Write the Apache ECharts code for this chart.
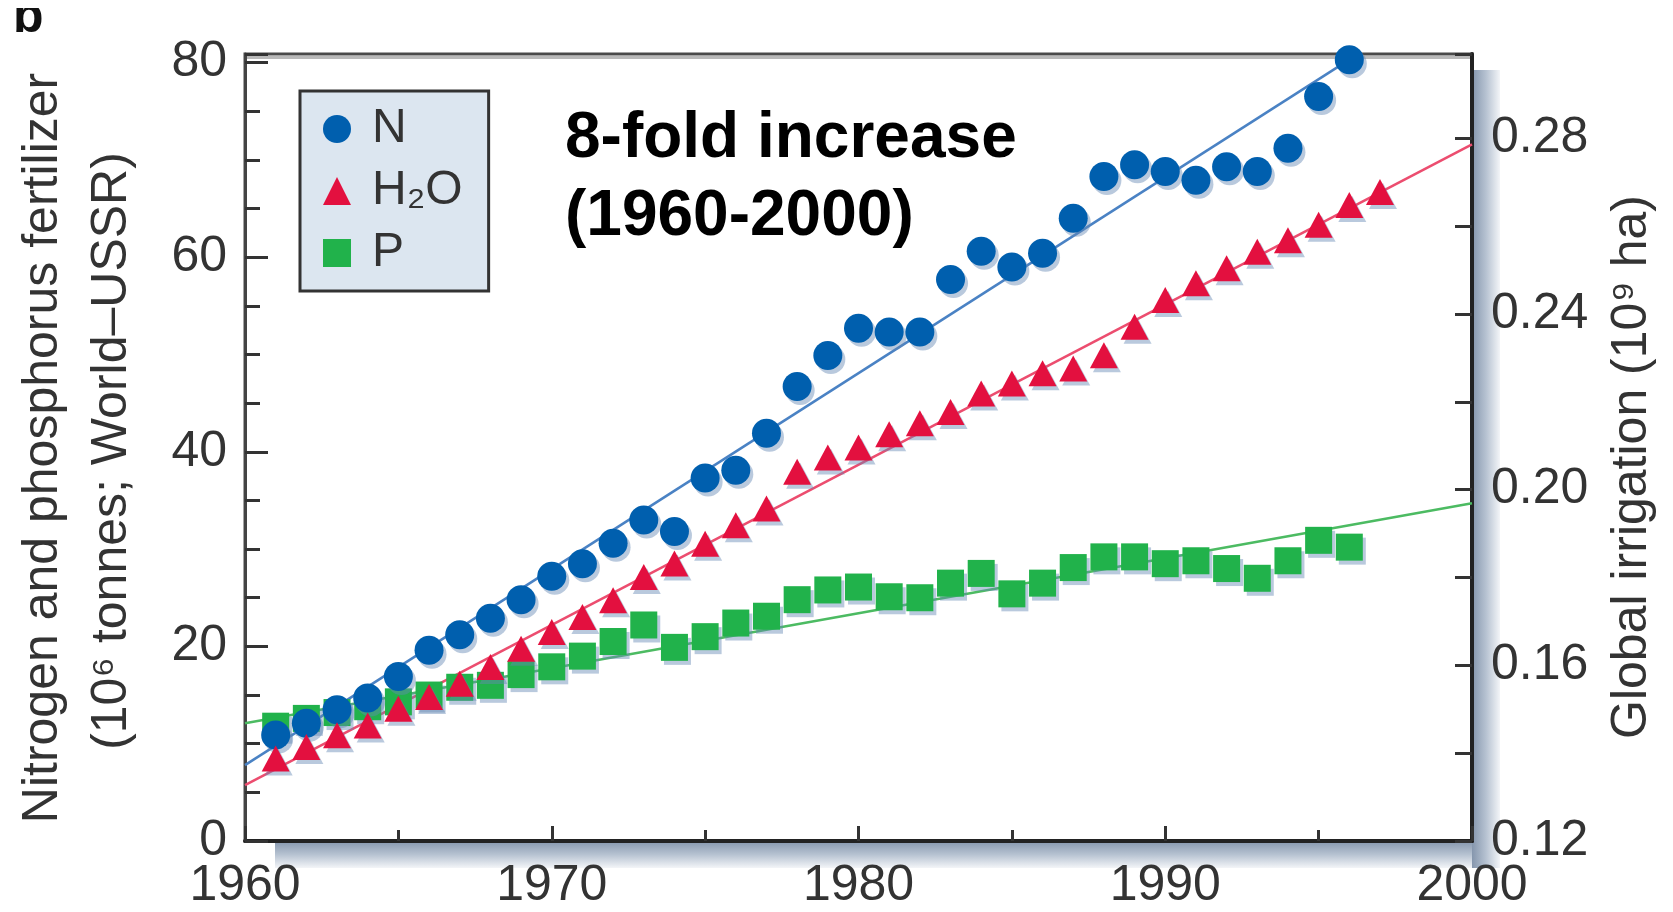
<!DOCTYPE html>
<html>
<head>
<meta charset="utf-8">
<script src="https://cdn.jsdelivr.net/npm/echarts@6/dist/echarts.min.js"></script>
<style>
html,body{margin:0;padding:0;background:#fff;}
#chart{width:1673px;height:912px;}
</style>
</head>
<body>
<div id="chart"></div>
<script>
// ---- data ----
const years = [1961,1962,1963,1964,1965,1966,1967,1968,1969,1970,1971,1972,1973,1974,1975,1976,1977,1978,1979,1980,1981,1982,1983,1984,1985,1986,1987,1988,1989,1990,1991,1992,1993,1994,1995,1996];
const h2oYears = [1961,1962,1963,1964,1965,1966,1967,1968,1969,1970,1971,1972,1973,1974,1975,1976,1977,1978,1979,1980,1981,1982,1983,1984,1985,1986,1987,1988,1989,1990,1991,1992,1993,1994,1995,1996,1997];
const nitrogen = [10.9,12.1,13.5,14.7,16.9,19.6,21.2,22.9,24.8,27.2,28.5,30.6,33.0,31.8,37.3,38.1,41.9,46.7,49.9,52.7,52.3,52.3,57.7,60.6,59.0,60.4,64.0,68.3,69.5,68.8,67.9,69.3,68.8,71.2,76.5,80.3];
const irrigation = [0.1388,0.1414,0.1441,0.1463,0.1501,0.1528,0.1558,0.1596,0.1638,0.1676,0.1710,0.1748,0.1801,0.1832,0.1877,0.1919,0.1957,0.2041,0.2073,0.2096,0.2126,0.2151,0.2177,0.2219,0.2242,0.2265,0.2276,0.2306,0.2371,0.2432,0.2470,0.2504,0.2542,0.2568,0.2603,0.2648,0.2678];
const phosphorus = [11.8,12.6,13.2,13.8,14.3,15.0,15.8,16.0,17.1,17.9,19.0,20.5,22.2,19.9,21.0,22.4,23.1,24.8,25.8,26.1,25.1,25.0,26.5,27.5,25.4,26.5,28.1,29.2,29.2,28.5,28.8,28.0,27.0,28.8,30.9,30.2];
const nTrend = [[1960, 7.8], [1996, 80.3]];
const h2oTrend = [[1960, 0.1327], [2000, 0.2786]];
const pTrend = [[1960, 12.1], [2000, 34.7]];
const seriesNames = ['N', 'H\u2082O', 'P'];
const annotation = ['8-fold increase', '(1960-2000)'];
const leftTitle = ['Nitrogen and phosphorus fertilizer', '(10\u2076 tonnes; World\u2013USSR)'];
const rightTitle = 'Global irrigation (10\u2079 ha)';

// ---- chart ----
const FONT = '"Liberation Sans", Arial, Helvetica, sans-serif';
const chart = echarts.init(document.getElementById('chart'), null, {renderer: 'canvas'});
const pairs = (xs, ys) => xs.map((x, i) => [x, ys[i]]);
const shadow = {opacity: 1, shadowColor: 'rgba(100,135,180,0.45)', shadowOffsetX: 3, shadowOffsetY: 4, shadowBlur: 0};
const tickLine = {color: '#333', width: 3};
const labelStyle = {fontSize: 50, color: '#333', fontFamily: FONT};

const option = {
  animation: false,
  backgroundColor: '#fff',
  grid: {left: 245, right: 201, top: 54, bottom: 71, show: true, borderColor: '#4a4a4a', borderWidth: 3, backgroundColor: 'transparent', containLabel: false},
  legend: {
    data: seriesNames,
    orient: 'vertical', left: 300, top: 91,
    backgroundColor: '#dce6f0', borderColor: '#333', borderWidth: 3,
    padding: [14, 26, 14, 23],
    itemWidth: 28, itemHeight: 28, itemGap: 14,
    selectedMode: false,
    itemStyle: {opacity: 1, shadowBlur: 0, shadowOffsetX: 0, shadowOffsetY: 0},
    textStyle: {fontSize: 48, color: '#333', fontFamily: FONT, lineHeight: 46, padding: [0, 0, 0, 16]}
  },
  xAxis: {
    type: 'value', min: 1960, max: 2000, interval: 10,
    axisLine: {show: true, lineStyle: {color: '#222', width: 4}},
    axisTick: {show: true, inside: true, length: 15, lineStyle: tickLine},
    minorTick: {show: true, splitNumber: 2, length: 11, lineStyle: tickLine},
    splitLine: {show: false},
    axisLabel: Object.assign({margin: 20, formatter: v => String(v)}, labelStyle)
  },
  yAxis: [
    {
      type: 'value', position: 'left', min: 0, max: 80.88, interval: 5,
      axisLine: {show: true, lineStyle: {color: '#444', width: 3}},
      axisTick: {show: true, inside: true, length: 15, lineStyle: tickLine},
      splitLine: {show: false},
      axisLabel: Object.assign({margin: 18, formatter: v => (Math.abs(v / 20 - Math.round(v / 20)) < 1e-6 ? String(Math.round(v)) : '')}, labelStyle)
    },
    {
      type: 'value', position: 'right', min: 0.12, max: 0.2992, interval: 0.02,
      axisLine: {show: true, lineStyle: {color: '#222', width: 4}},
      axisTick: {show: true, inside: true, length: 17, lineStyle: tickLine},
      splitLine: {show: false},
      axisLabel: Object.assign({margin: 19, formatter: v => { const k = Math.round(v * 100); return (Math.abs(v * 100 - k) < 1e-6 && k % 4 === 0) ? (k / 100).toFixed(2) : ''; }}, labelStyle)
    },
    {
      type: 'value', position: 'left', min: 0, max: 80.88, interval: 20,
      axisLine: {show: false},
      axisTick: {show: true, inside: true, length: 23, lineStyle: tickLine},
      splitLine: {show: false},
      axisLabel: {show: false}
    }
  ],
  series: [
    {type: 'line', data: pTrend, yAxisIndex: 0, showSymbol: false, silent: true, z: 1, lineStyle: {color: '#4cbb62', width: 2.5}},
    {type: 'line', data: nTrend, yAxisIndex: 0, showSymbol: false, silent: true, z: 1, lineStyle: {color: '#4a82c4', width: 2.5}},
    {type: 'line', data: h2oTrend, yAxisIndex: 1, showSymbol: false, silent: true, z: 1, lineStyle: {color: '#ec4d6f', width: 2.5}},
    {name: seriesNames[2], type: 'scatter', yAxisIndex: 0, data: pairs(years, phosphorus), symbol: 'rect', symbolSize: 27, z: 2, itemStyle: Object.assign({color: '#21b24b'}, shadow)},
    {name: seriesNames[0], type: 'scatter', yAxisIndex: 0, data: pairs(years, nitrogen), symbol: 'circle', symbolSize: 29, z: 3, itemStyle: Object.assign({color: '#005fae'}, shadow)},
    {name: seriesNames[1], type: 'scatter', yAxisIndex: 1, data: pairs(h2oYears, irrigation), symbol: 'triangle', symbolSize: [28, 26], z: 4, itemStyle: Object.assign({color: '#e3103f'}, shadow)}
  ],
  graphic: [
    {type: 'rect', z: -10, shape: {x: 275, y: 841, width: 1225, height: 27}, style: {fill: new echarts.graphic.LinearGradient(0, 0, 0, 1, [{offset: 0, color: '#8596ad'}, {offset: 0.5, color: '#b6c2d1'}, {offset: 1, color: '#f3f5f8'}])}},
    {type: 'rect', z: -10, shape: {x: 1472, y: 70, width: 28, height: 798}, style: {fill: new echarts.graphic.LinearGradient(0, 0, 1, 0, [{offset: 0, color: '#8596ad'}, {offset: 0.5, color: '#b6c2d1'}, {offset: 1, color: '#f3f5f8'}])}},
    {type: 'line', z: 1, shape: {x1: 247, y1: 57.5, x2: 1470, y2: 57.5}, style: {stroke: '#b9b9b9', lineWidth: 3}},
    {type: 'text', x: 565, y: 139, style: {text: annotation[0], font: 'bold 64px ' + FONT, fill: '#000', align: 'left', verticalAlign: 'middle'}},
    {type: 'text', x: 565, y: 217, style: {text: annotation[1], font: 'bold 64px ' + FONT, fill: '#000', align: 'left', verticalAlign: 'middle'}},
    {type: 'text', x: 43, y: 448, rotation: Math.PI / 2, style: {text: leftTitle[0], font: '50px ' + FONT, fill: '#333', align: 'center', verticalAlign: 'middle'}},
    {type: 'text', x: 112, y: 451, rotation: Math.PI / 2, style: {text: leftTitle[1], font: '50px ' + FONT, fill: '#333', align: 'center', verticalAlign: 'middle'}},
    {type: 'text', x: 13, y: 18, style: {text: 'b', font: 'bold 50px ' + FONT, fill: '#111', align: 'left', verticalAlign: 'middle'}},
    {type: 'rect', z: 50, shape: {x: 0, y: 0, width: 70, height: 8}, style: {fill: '#fff'}},
    {type: 'text', x: 1632, y: 467, rotation: Math.PI / 2, style: {text: rightTitle, font: '50px ' + FONT, fill: '#333', align: 'center', verticalAlign: 'middle'}}
  ]
};
chart.setOption(option);
</script>
</body>
</html>
